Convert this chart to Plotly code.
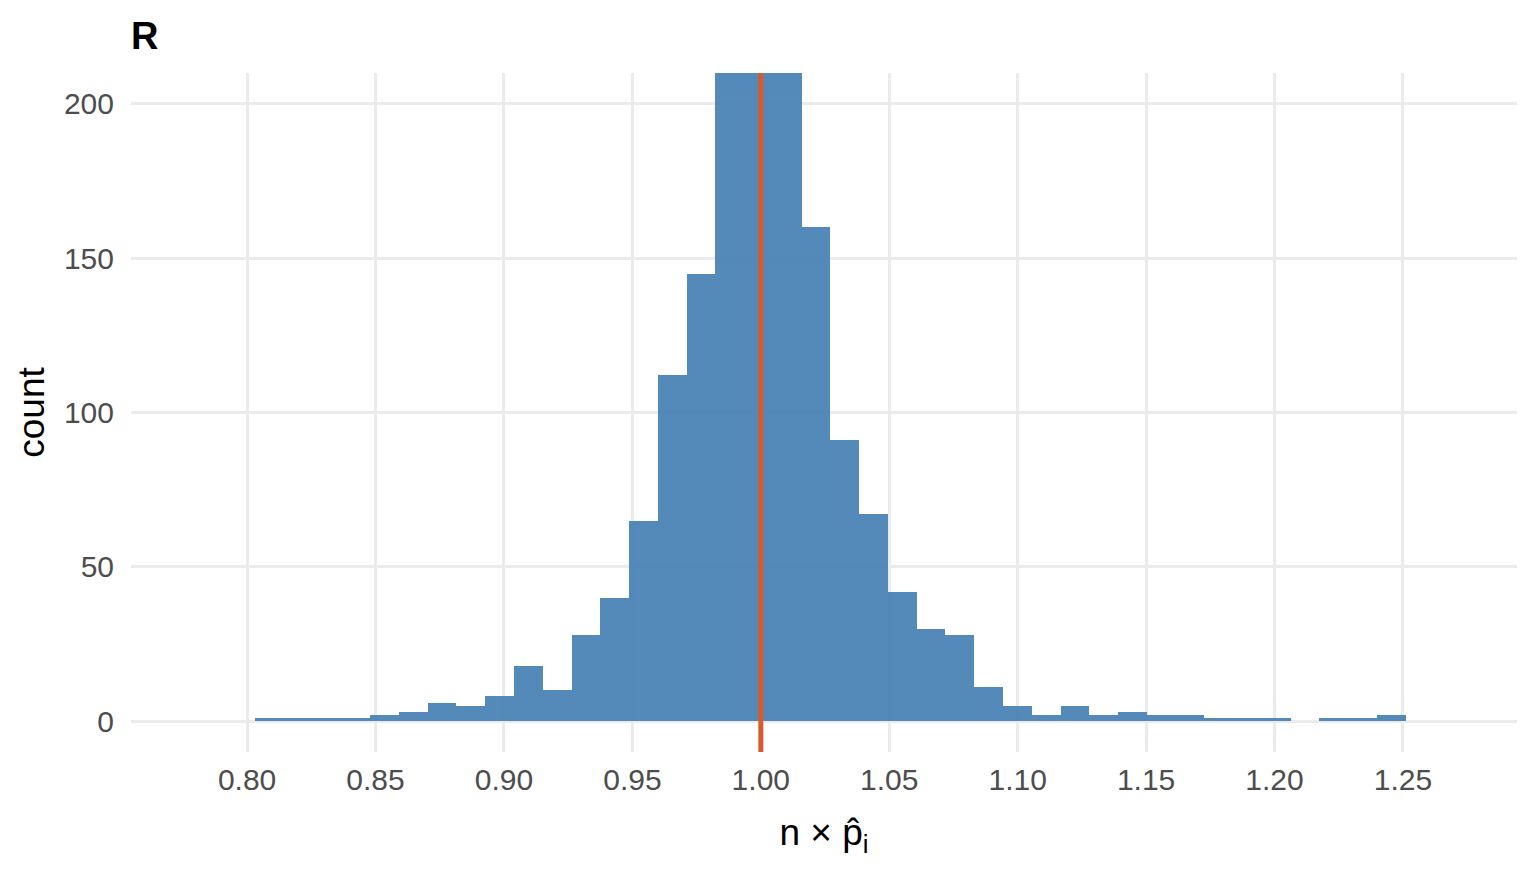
import numpy as np
import plotly.graph_objects as go

# histogram counts (40 equal-width bins)
bin_start = 0.8031
bin_width = 0.0112
counts = [1, 1, 1, 1, 2, 3, 6, 5, 8, 18,
          10, 28, 40, 65, 112, 145, 232, 251, 228, 160,
          91, 67, 42, 30, 28, 11, 5, 2, 5, 2,
          3, 2, 2, 1, 1, 1, 0, 1, 1, 2]
ref_value = 1.0

x_ticks = [0.80, 0.85, 0.90, 0.95, 1.00, 1.05, 1.10, 1.15, 1.20, 1.25]
y_ticks = [0, 50, 100, 150, 200]

centers = bin_start + bin_width * (np.arange(len(counts)) + 0.5)

fig = go.Figure()
fig.add_trace(go.Bar(x=centers, y=counts, width=bin_width,
                     marker=dict(color="#4682B4", line=dict(width=0)),
                     opacity=0.93, showlegend=False, hoverinfo="x+y"))

fig.add_vline(x=ref_value, line=dict(color="#DA5A2C", width=5))

# page body adds an 8px offset, so margins are pulled in by that much
font_family = "Liberation Sans, Arial, sans-serif"
fig.update_layout(
    width=1536, height=883,
    margin=dict(l=123, r=27, t=65, b=139),
    plot_bgcolor="white", paper_bgcolor="white",
    bargap=0,
    font=dict(family=font_family, color="#4D4D4D", size=30),
    title=dict(text="<b>R</b>", x=0, xref="paper", xanchor="left",
               y=1 - 28 / 883, yref="container", yanchor="middle",
               font=dict(size=38, color="black", family=font_family)),
    xaxis=dict(range=[0.7548, 1.2944], tickvals=x_ticks,
               ticktext=[f"{v:.2f}" for v in x_ticks],
               showgrid=True, gridcolor="#EBEBEB", gridwidth=2.5,
               zeroline=False, showline=False, ticks="",
               ticklabelstandoff=7,
               title=dict(text="n × p̂<sub>i</sub>", standoff=24,
                          font=dict(size=37, color="black"))),
    yaxis=dict(range=[-10, 210], tickvals=y_ticks,
               showgrid=True, gridcolor="#EBEBEB", gridwidth=2.5,
               zeroline=False, showline=False, ticks="",
               ticklabelstandoff=16,
               title=dict(text="count", standoff=7,
                          font=dict(size=37, color="black"))),
)

fig.write_html("out.html")
